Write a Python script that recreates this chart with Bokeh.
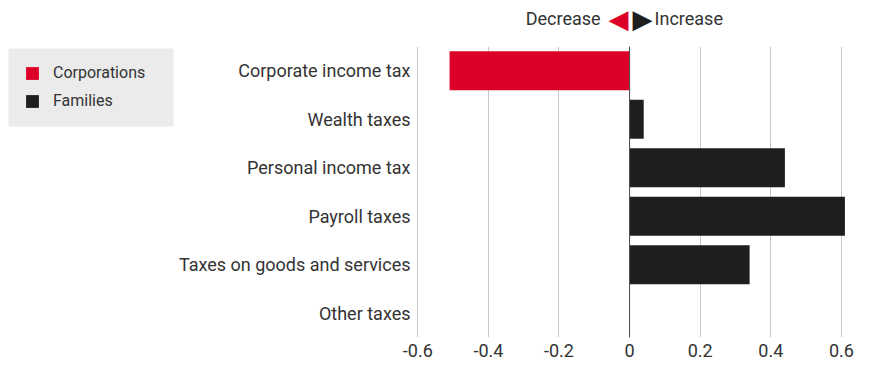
from bokeh.plotting import figure
from bokeh.layouts import column, row
from bokeh.models import FactorRange, Range1d, FixedTicker, Span, Legend, LegendItem
from bokeh.core.properties import value
from bokeh.embed import file_html
from bokeh.resources import INLINE

categories = ["Corporate income tax", "Wealth taxes", "Personal income tax",
              "Payroll taxes", "Taxes on goods and services", "Other taxes"]
values = [-0.51, 0.04, 0.44, 0.61, 0.34, 0.0]
groups = ["Corporations", "Families", "Families", "Families", "Families", "Families"]
series = ["Corporations", "Families"]
colors = {"Corporations": "#dc0029", "Families": "#1e1e1e"}
tick_values = [-0.6, -0.4, -0.2, 0.0, 0.2, 0.4, 0.6]
tick_labels = ["-0.6", "-0.4", "-0.2", "0", "0.2", "0.4", "0.6"]
direction_labels = ["Decrease", "Increase"]

FONT = "Roboto"
TXT = "#333333"

x_range = Range1d(-0.615, 0.6825)
y_factors = FactorRange(factors=list(reversed(categories)), range_padding=0)

# ---------- top strip: Decrease / Increase ----------
top = figure(width=886, height=40, output_backend="svg", toolbar_location=None,
             x_range=x_range, y_range=Range1d(40, 0),
             x_axis_location=None, y_axis_location=None,
             min_border_left=412, min_border_right=16, min_border_top=0, min_border_bottom=0)
top.outline_line_color = None
top.xgrid.visible = False
top.ygrid.visible = False
top.text(x=[0], y=[18], text=[direction_labels[0]], x_offset=-29, text_align="right",
         text_baseline="middle", text_font=value(FONT), text_font_size="18px", text_color=TXT)
top.text(x=[0], y=[18], text=[direction_labels[1]], x_offset=25, text_align="left",
         text_baseline="middle", text_font=value(FONT), text_font_size="18px", text_color=TXT)
top.text(x=[0], y=[18], text=["\u25C0"], x_offset=-1, text_align="right",
         text_baseline="middle", text_font=value("DejaVu Sans"), text_font_size="26px",
         text_color=colors["Corporations"])
top.text(x=[0], y=[18], text=["\u25B6"], x_offset=3, text_align="left",
         text_baseline="middle", text_font=value("DejaVu Sans"), text_font_size="26px",
         text_color=colors["Families"])

# ---------- legend panel ----------
lf = figure(width=174, height=336, output_backend="svg", toolbar_location=None,
            x_range=Range1d(0, 174), y_range=Range1d(291, 0),
            x_axis_location=None, y_axis_location=None,
            min_border_left=0, min_border_right=0, min_border_top=6, min_border_bottom=39)
lf.outline_line_color = None
lf.xgrid.visible = False
lf.ygrid.visible = False
# grey legend box
lf.quad(left=[8], right=[173], top=[2], bottom=[80], fill_color="#ebebeb", line_color=None)
items = []
for s in series:
    ys = [i for i, g in enumerate(groups) if g == s]
    xs = [v for v, g in zip(values, groups) if g == s]
    r = lf.hbar(y=ys, right=xs, left=0, height=0.8, fill_color=colors[s], line_color=None,
                visible=False)
    items.append(LegendItem(label=s, renderers=[r]))
legend = Legend(items=items, location=(24, 227), background_fill_alpha=0,
                border_line_color=None, glyph_width=16, glyph_height=16, label_height=18,
                spacing=9, padding=0, margin=0, label_standoff=13,
                inactive_fill_alpha=0, label_text_font=FONT,
                label_text_font_size="16px", label_text_color=TXT)
lf.add_layout(legend, "center")

# ---------- main chart ----------
p = figure(width=712, height=336, output_backend="svg", toolbar_location=None,
           y_range=y_factors, x_range=x_range,
           min_border_left=238, min_border_right=16, min_border_top=6, min_border_bottom=39)
p.outline_line_color = None

for s in series:
    ys = [c for c, g in zip(categories, groups) if g == s]
    xs = [v for v, g in zip(values, groups) if g == s]
    p.hbar(y=ys, right=xs, left=0, height=0.8, fill_color=colors[s], line_color=None)

p.add_layout(Span(location=0, dimension="height", line_color="#4a4a4a", line_width=1))

p.xaxis.ticker = FixedTicker(ticks=tick_values)
p.xaxis.major_label_overrides = {v: l for v, l in zip(tick_values, tick_labels)}
p.xaxis.axis_line_color = None
p.xaxis.major_tick_line_color = None
p.xaxis.minor_tick_line_color = None
p.xaxis.major_tick_out = 0
p.xaxis.major_label_standoff = 6
p.xaxis.major_label_text_font = FONT
p.xaxis.major_label_text_font_size = "18px"
p.xaxis.major_label_text_color = TXT

p.yaxis.axis_line_color = None
p.yaxis.major_tick_line_color = None
p.yaxis.major_tick_out = 0
p.yaxis.major_label_standoff = 2
p.yaxis.major_label_text_font = FONT
p.yaxis.major_label_text_font_size = "18px"
p.yaxis.major_label_text_color = TXT

p.ygrid.grid_line_color = None
p.xgrid.grid_line_color = "#c8c8c8"
p.xgrid.grid_line_width = 1

layout = column(top, row(lf, p, spacing=0), spacing=0)

open("out.html", "w").write(file_html(layout, INLINE))
